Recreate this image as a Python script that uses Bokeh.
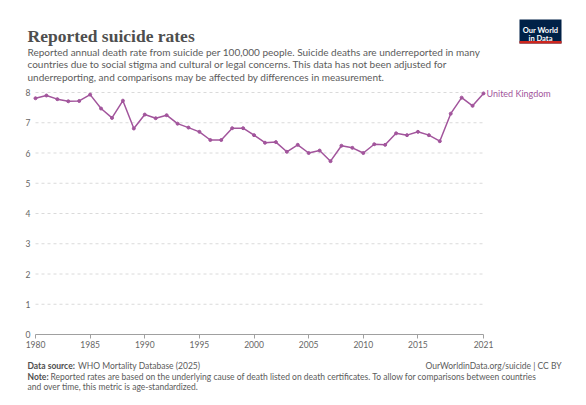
from bokeh.models import ColumnDataSource, Label, FixedTicker, Range1d
from bokeh.plotting import figure
from bokeh.layouts import column
from bokeh.embed import file_html
from bokeh.resources import INLINE

years = list(range(1980, 2022))
rate = [7.81, 7.90, 7.78, 7.71, 7.72, 7.93, 7.47, 7.16, 7.73, 6.81,
        7.27, 7.15, 7.25, 6.97, 6.84, 6.70, 6.43, 6.43, 6.82, 6.82,
        6.59, 6.34, 6.36, 6.04, 6.27, 6.00, 6.08, 5.73, 6.24, 6.17,
        6.00, 6.29, 6.27, 6.65, 6.59, 6.70, 6.59, 6.39, 7.30, 7.83,
        7.56, 7.97]
country = "United Kingdom"
x_ticks = [1980, 1985, 1990, 1995, 2000, 2005, 2010, 2015, 2021]
y_ticks = [0, 1, 2, 3, 4, 5, 6, 7, 8]

title = "Reported suicide rates"
subtitle = [
    "Reported annual death rate from suicide per 100,000 people. Suicide deaths are underreported in many",
    "countries due to social stigma and cultural or legal concerns. This data has not been adjusted for",
    "underreporting, and comparisons may be affected by differences in measurement.",
]
source = "WHO Mortality Database (2025)"
credit = "OurWorldinData.org/suicide | CC BY"
note = [
    "Reported rates are based on the underlying cause of death listed on death certificates. To allow for comparisons between countries",
    "and over time, this metric is age-standardized.",
]

purple = "#a2559c"
grey = "#5b5b5b"
dark = "#4e4e4e"
font = "Lato"
W = 586
LEFT = 20          # left border shared by all three panels


def text_panel(h):
    # blank figure whose data units are page pixels (y grows downwards)
    f = figure(width=W, height=h, output_backend="svg", toolbar_location=None,
               x_range=Range1d(LEFT, W), y_range=Range1d(h, 0),
               min_border=0, min_border_left=LEFT,
               x_axis_location=None, y_axis_location=None)
    f.grid.grid_line_color = None
    f.outline_line_color = None
    return f


def txt(f, x, y, s, size, color=grey, style="normal", font_name=font, align="left"):
    f.add_layout(Label(x=x, y=y, text=s, text_font=font_name, text_font_size=size,
                       text_font_style=style, text_color=color,
                       text_align=align, text_baseline="alphabetic"))


# header
head = text_panel(85)
txt(head, 27, 35.5, title, "17.5px", color=dark, style="bold", font_name="Liberation Serif")
for i, line in enumerate(subtitle):
    txt(head, 27, 51 + 12.8 * i, line, "10px")
head.quad(left=519, right=561, top=19, bottom=43, fill_color="#002147", line_color=None)
head.quad(left=519, right=561, top=40.5, bottom=43, fill_color="#ce261e", line_color=None)
txt(head, 540, 29.5, "Our World", "7.5px", color="white", style="bold", align="center")
txt(head, 540, 37.5, "in Data", "7.5px", color="white", style="bold", align="center")

# chart: the frame fills the whole panel; years[0] sits at x=35, 8 at y=92, 0 at y=334
src = ColumnDataSource(data=dict(year=years, rate=rate))
span = years[-1] - years[0]
px_year = 448 / span
px_unit = 242 / 8
chart_h = 269
p = figure(width=W, height=chart_h, output_backend="svg", toolbar_location=None,
           x_range=Range1d(years[0] - 15 / px_year, years[0] + (W - 35) / px_year),
           y_range=Range1d(-(chart_h - 249) / px_unit, 8 + 7 / px_unit),
           min_border=0, min_border_left=LEFT)
p.outline_line_color = None
p.grid.grid_line_color = None

# dashed gridlines that stop at the last year
n = len(y_ticks) - 1
p.segment(x0=[years[0]] * n, x1=[years[-1]] * n, y0=y_ticks[1:], y1=y_ticks[1:],
          line_color="#dadada", line_dash="3 3", line_width=1)

p.xaxis.fixed_location = 0
p.xaxis.ticker = FixedTicker(ticks=x_ticks)
p.xaxis.bounds = (years[0], years[-1])
p.xaxis.axis_line_color = "#a0a0a0"
p.xaxis.major_tick_line_color = "#a0a0a0"
p.xaxis.major_tick_out = 4
p.xaxis.major_tick_in = 0
p.xaxis.minor_tick_line_color = None
p.xaxis.major_label_text_font = font
p.xaxis.major_label_text_font_size = "8.5px"
p.xaxis.major_label_text_color = "#666666"
p.xaxis.major_label_standoff = 2

p.yaxis.fixed_location = years[0]
p.yaxis.ticker = FixedTicker(ticks=y_ticks)
p.yaxis.axis_line_color = None
p.yaxis.major_tick_line_color = None
p.yaxis.minor_tick_line_color = None
p.yaxis.major_tick_out = 0
p.yaxis.major_label_standoff = 5
p.yaxis.major_label_text_font = font
p.yaxis.major_label_text_font_size = "8.5px"
p.yaxis.major_label_text_color = "#666666"

p.line("year", "rate", source=src, line_color=purple, line_width=1.5)
p.scatter("year", "rate", source=src, size=3, color=purple)
p.add_layout(Label(x=years[-1], y=rate[-1], text=country, x_offset=3,
                   text_baseline="middle", text_font=font,
                   text_font_size="9px", text_color=purple))

# footer
foot = text_panel(51)
txt(foot, 27, 11, "Data source:", "8.5px", color=dark, style="bold")
txt(foot, 77.5, 11, source, "8.5px")
txt(foot, 561, 11, credit, "8.5px", align="right")
txt(foot, 27, 22, "Note:", "8.5px", color=dark, style="bold")
txt(foot, 50, 22, note[0], "8.5px")
txt(foot, 27, 32.5, note[1], "8.5px")

open("out.html", "w").write(file_html(column(head, p, foot), INLINE))
